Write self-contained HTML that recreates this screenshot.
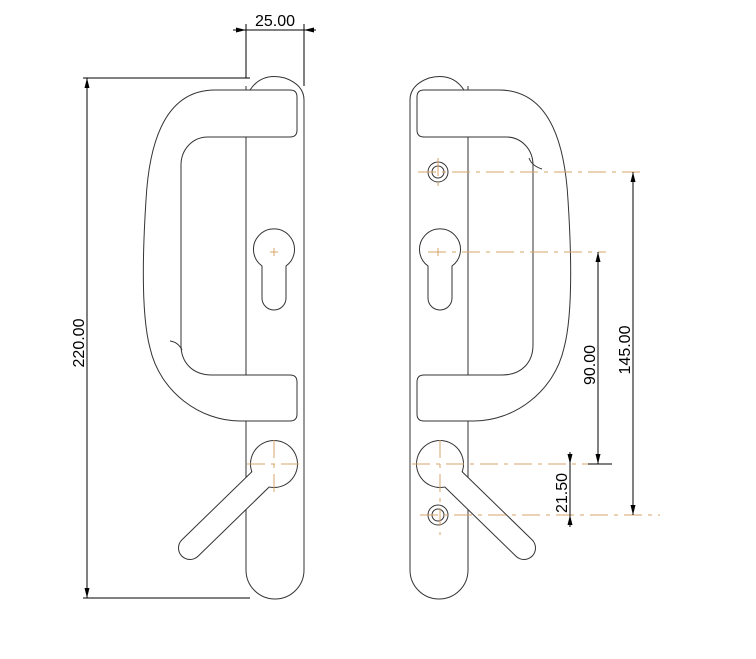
<!DOCTYPE html>
<html><head><meta charset="utf-8"><style>html,body{margin:0;padding:0;background:#fff}svg{display:block}</style></head>
<body>
<svg width="756" height="659" viewBox="0 0 756 659" xmlns="http://www.w3.org/2000/svg">
<defs>
<g id="view" fill="none" stroke="#333" stroke-width="1">
  <path d="M246,86 L246,570 A29,29 0 0 0 304,570 L304,100" fill="#fff"/>
  <path d="M250,90 Q262,72 285,78 Q304,85 304,100"/>
  <path fill="#fff" d="M250,90 L215,90 C172,90 150,128 146,200 C142,262 142,318 150,348 C160,392 200,421 240,421 L290,421 Q297,421 297,414 L297,382 Q297,375 290,375 L212,375 C192,375 181,362 181,345 L181,165 C181,150 192,137 208,137 L290,137 Q297,137 297,130 L297,97 Q297,90 290,90 Z"/>
  <line x1="246" y1="137" x2="246" y2="375"/>
  <path fill="#fff" d="M262,266 A20.5,20.5 0 1 1 286,266 L286,298 A12,12 0 0 1 262,298 Z"/>
  <line x1="265" y1="475" x2="190" y2="548" stroke="#333" stroke-width="24" stroke-linecap="round"/>
  <circle cx="274" cy="464" r="24" fill="#333" stroke="none"/>
  <line x1="265" y1="475" x2="190" y2="548" stroke="#fff" stroke-width="22" stroke-linecap="round"/>
  <circle cx="274" cy="464" r="23" fill="#fff" stroke="none"/>
</g>
<path id="au" d="M0,0 L-2.5,10 L2.5,10 Z" fill="#000"/>
</defs>

<use href="#view"/>
<use href="#view" transform="translate(714,0) scale(-1,1)"/>
<g fill="none" stroke="#333" stroke-width="1">
  <path d="M170,341 Q178,342 182,350"/>
  <path d="M529,158 Q532,166 542,169"/>
  <circle cx="438" cy="172" r="10"/><circle cx="438" cy="172" r="6"/>
  <circle cx="438" cy="515" r="10"/><circle cx="438" cy="515" r="6"/>
</g>

<g stroke="#d9a66a" stroke-width="1" fill="none" stroke-dasharray="18 6 4 6">
  <line x1="247" y1="464" x2="302" y2="464"/>
  <line x1="274" y1="440" x2="274" y2="492"/>
  <line x1="418" y1="172" x2="640" y2="172"/>
  <line x1="438" y1="158" x2="438" y2="190"/>
  <line x1="428" y1="252" x2="606" y2="252"/>
  <line x1="412" y1="464" x2="614" y2="464"/>
  <line x1="440" y1="440" x2="440" y2="535"/>
  <line x1="420" y1="515" x2="660" y2="515"/>
</g>
<g stroke="#d9a66a" stroke-width="1">
  <line x1="270" y1="252" x2="278" y2="252"/><line x1="274" y1="248" x2="274" y2="256"/>
  <line x1="434" y1="252" x2="442" y2="252"/><line x1="438" y1="248" x2="438" y2="256"/>
</g>

<g stroke="#000" stroke-width="1" fill="none">
  <line x1="233" y1="30" x2="316" y2="30"/>
  <line x1="246" y1="24" x2="246" y2="78"/>
  <line x1="304" y1="24" x2="304" y2="86"/>
  <line x1="83" y1="78" x2="250" y2="78"/>
  <line x1="83" y1="598" x2="250" y2="598"/>
  <line x1="87" y1="78" x2="87" y2="598"/>
  <line x1="633" y1="172" x2="633" y2="515"/>
  <line x1="598" y1="252" x2="598" y2="464"/>
  <line x1="588" y1="464" x2="612" y2="464"/>
  <line x1="570" y1="452" x2="570" y2="527"/>
</g>
<use href="#au" transform="translate(246,30) rotate(90)"/>
<use href="#au" transform="translate(304,30) rotate(-90)"/>
<use href="#au" transform="translate(87,78)"/>
<use href="#au" transform="translate(87,598) rotate(180)"/>
<use href="#au" transform="translate(633,172)"/>
<use href="#au" transform="translate(633,515) rotate(180)"/>
<use href="#au" transform="translate(598,252)"/>
<use href="#au" transform="translate(598,464) rotate(180)"/>
<use href="#au" transform="translate(570,464) rotate(180)"/>
<use href="#au" transform="translate(570,515)"/>

<g font-family="Liberation Sans, sans-serif" font-size="16" fill="#000">
  <text x="275" y="26" text-anchor="middle">25.00</text>
  <text transform="translate(84,343) rotate(-90)" text-anchor="middle">220.00</text>
  <text transform="translate(595,365) rotate(-90)" text-anchor="middle">90.00</text>
  <text transform="translate(630,350) rotate(-90)" text-anchor="middle">145.00</text>
  <text transform="translate(567,493) rotate(-90)" text-anchor="middle">21.50</text>
</g>
</svg>
</body></html>
